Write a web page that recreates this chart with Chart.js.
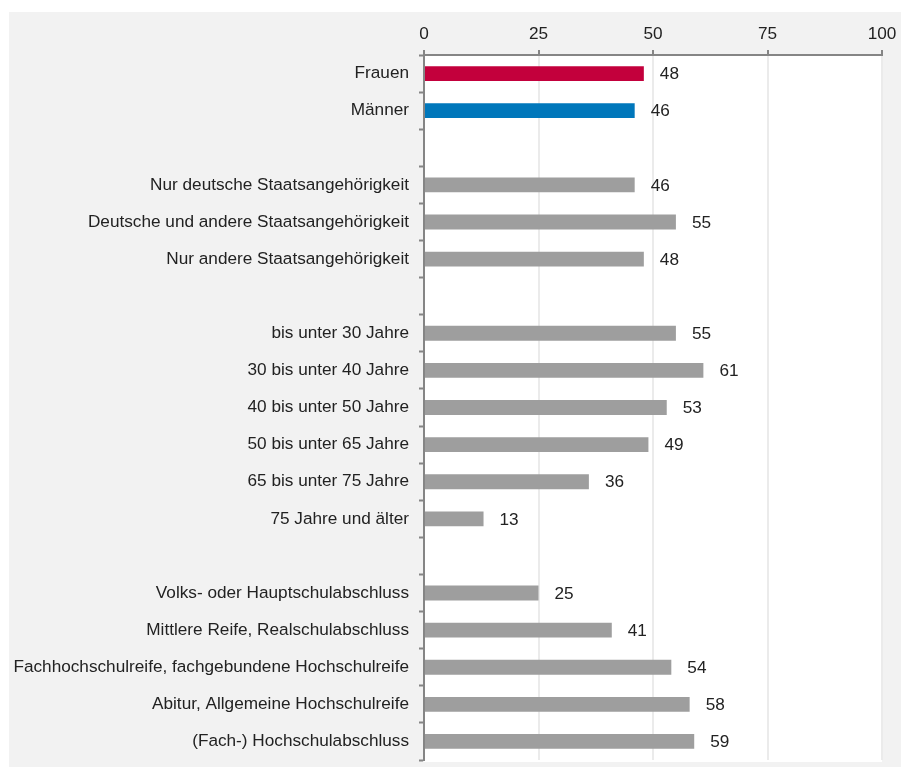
<!DOCTYPE html>
<html lang="de">
<head>
<meta charset="utf-8">
<title>Anteile nach Gruppen</title>
<script src="https://cdn.jsdelivr.net/npm/chart.js@4.4.1/dist/chart.umd.min.js"></script>
<style>
  html, body { margin: 0; padding: 0; background: #ffffff; }
  body { width: 901px; height: 767px; position: relative; overflow: hidden; }
  .panel { position: absolute; left: 9px; top: 12px; width: 892px; height: 755px; background: #f2f2f2; }
  .panel canvas { position: absolute; left: 0; top: 0; }
</style>
</head>
<body>
<div class="panel">
  <canvas id="grafico" width="892" height="755"></canvas>
</div>
<script>
"use strict";

// Kategorien (leere Einträge = Abstand zwischen den Gruppen)
const kategorien = [
  "Frauen",
  "Männer",
  "",
  "Nur deutsche Staatsangehörigkeit",
  "Deutsche und andere Staatsangehörigkeit",
  "Nur andere Staatsangehörigkeit",
  "",
  "bis unter 30 Jahre",
  "30 bis unter 40 Jahre",
  "40 bis unter 50 Jahre",
  "50 bis unter 65 Jahre",
  "65 bis unter 75 Jahre",
  "75 Jahre und älter",
  "",
  "Volks- oder Hauptschulabschluss",
  "Mittlere Reife, Realschulabschluss",
  "Fachhochschulreife, fachgebundene Hochschulreife",
  "Abitur, Allgemeine Hochschulreife",
  "(Fach-) Hochschulabschluss",
];

const werte = [48, 46, null, 46, 55, 48, null, 55, 61, 53, 49, 36, 13, null, 25, 41, 54, 58, 59];

const achseWerte = [0, 25, 50, 75, 100];

const farbeFrauen = "#c3003c";
const farbeMaenner = "#0077bb";
const farbeGrau = "#9e9e9e";

const farben = kategorien.map((k) => {
  if (k === "Frauen") return farbeFrauen;
  if (k === "Männer") return farbeMaenner;
  return farbeGrau;
});

const schrift = { family: "'Liberation Sans', Arial, sans-serif", size: 17.2 };
const textFarbe = "#222222";
const achsenFarbe = "#858585";

// Weißer Hintergrund der Zeichenfläche
const hintergrund = {
  id: "hintergrund",
  beforeDraw(chart) {
    const { ctx, chartArea } = chart;
    ctx.save();
    ctx.fillStyle = "#ffffff";
    ctx.fillRect(chartArea.left, chartArea.top, chartArea.right - chartArea.left, chartArea.bottom - chartArea.top + 2);
    ctx.restore();
  },
};

// Werte rechts neben den Balken
const wertLabels = {
  id: "wertLabels",
  afterDatasetsDraw(chart) {
    const { ctx } = chart;
    const meta = chart.getDatasetMeta(0);
    ctx.save();
    ctx.font = `${schrift.size}px ${schrift.family}`;
    ctx.fillStyle = textFarbe;
    ctx.textAlign = "left";
    ctx.textBaseline = "middle";
    meta.data.forEach((bar, i) => {
      const v = werte[i];
      if (v === null || v === undefined) return;
      ctx.fillText(String(v), bar.x + 16, bar.y + 1);
    });
    ctx.restore();
  },
};

new Chart(document.getElementById("grafico"), {
  type: "bar",
  data: {
    labels: kategorien,
    datasets: [
      {
        data: werte,
        backgroundColor: farben,
        barPercentage: 0.4,
        categoryPercentage: 1,
      },
    ],
  },
  options: {
    indexAxis: "y",
    responsive: false,
    animation: false,
    layout: { padding: { left: 0, top: 0, right: 19, bottom: 7 } },
    plugins: {
      legend: { display: false },
      tooltip: { enabled: false },
    },
    scales: {
      x: {
        position: "top",
        min: 0,
        max: 100,
        afterBuildTicks(scale) {
          scale.ticks = achseWerte.map((v) => ({ value: v }));
        },
        afterFit(scale) {
          scale.height = 43;
          scale.paddingLeft = 0;
          scale.paddingRight = 0;
        },
        ticks: {
          font: schrift,
          color: textFarbe,
          padding: 5,
        },
        grid: {
          color: "#ebebeb",
          lineWidth: 2,
          tickColor: achsenFarbe,
          tickLength: 5,
          tickWidth: 2,
        },
        border: { color: achsenFarbe, width: 2 },
      },
      y: {
        afterFit(scale) {
          scale.width = 415;
          scale.paddingTop = 0;
          scale.paddingBottom = 0;
        },
        ticks: {
          font: schrift,
          color: textFarbe,
          padding: 10,
          autoSkip: false,
        },
        grid: {
          offset: true,
          drawOnChartArea: false,
          tickColor: achsenFarbe,
          tickLength: 5,
          tickWidth: 2,
        },
        border: { color: achsenFarbe, width: 2 },
      },
    },
  },
  plugins: [hintergrund, wertLabels],
});
</script>
</body>
</html>
